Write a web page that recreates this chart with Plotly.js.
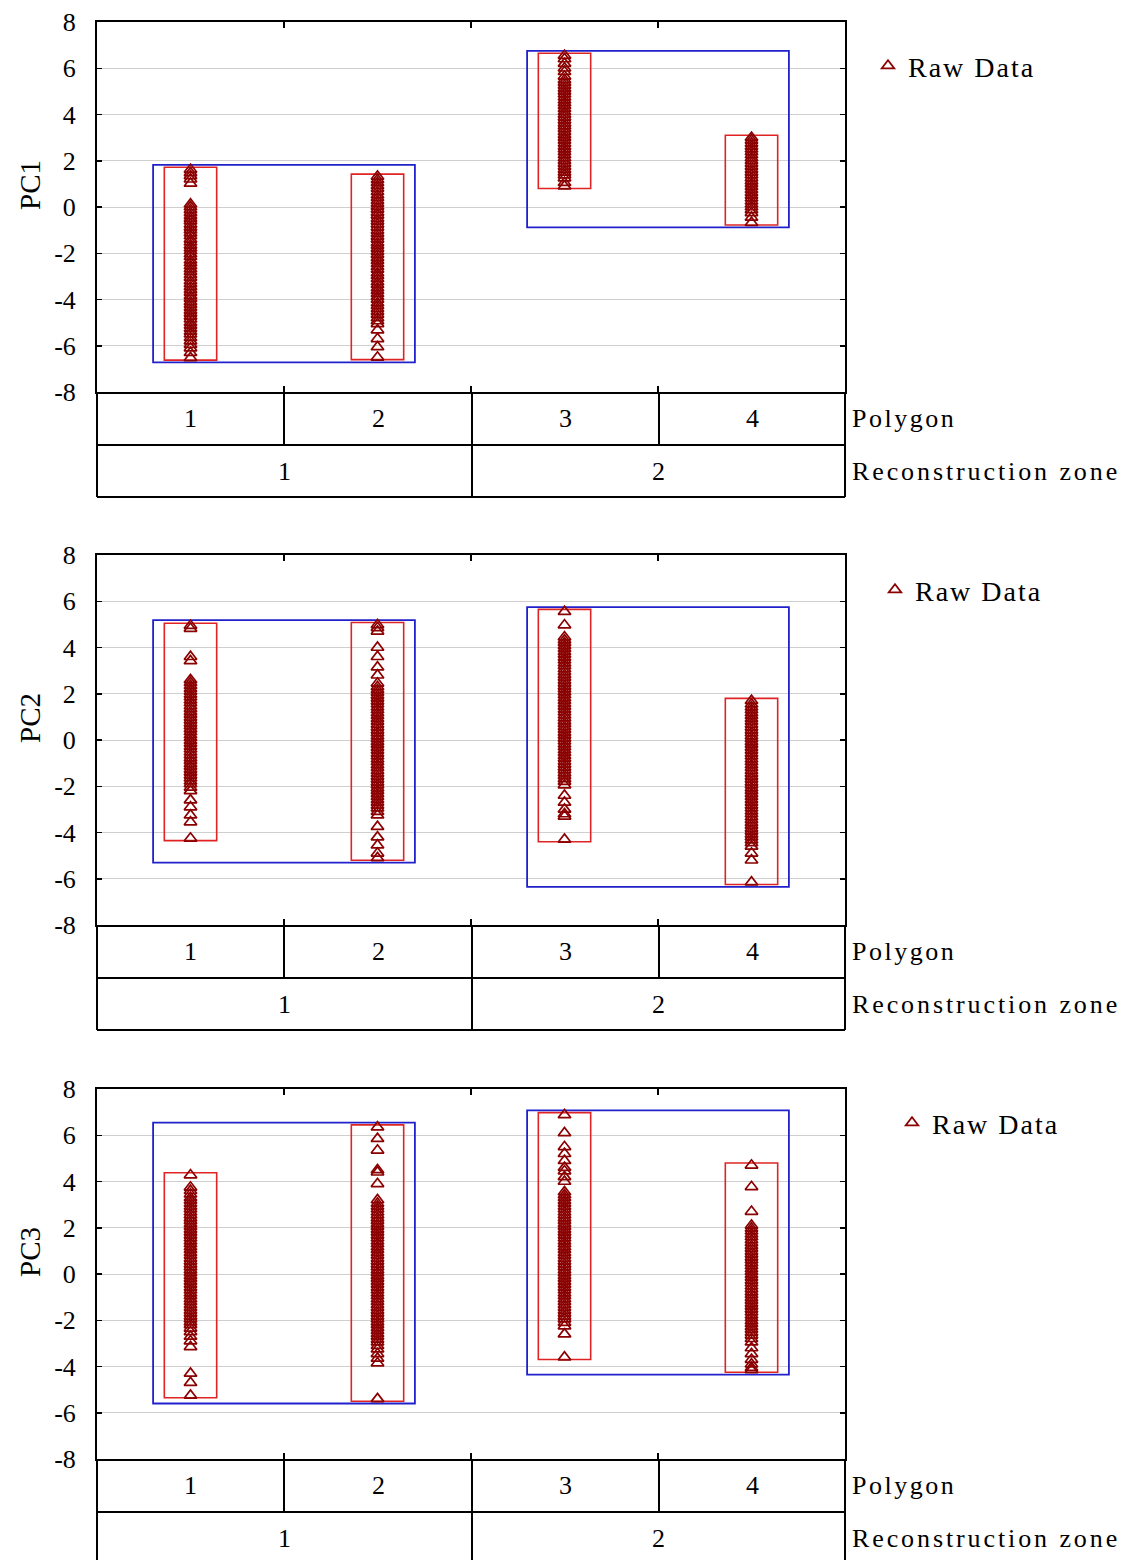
<!DOCTYPE html>
<html><head><meta charset="utf-8">
<script src="https://cdn.plot.ly/plotly-3.0.1.min.js"></script>
<style>body{margin:0;background:#fff}</style>
</head><body><div id="chart" style="width:1125px;height:1560px"></div>
<script>
// ---------------- DATA ----------------
const polygons = [1, 2, 3, 4];
const polygonLabels = ['1', '2', '3', '4'];
const zoneLabels = ['1', '2'];
const zonePolygons = [[1, 2], [3, 4]];
const pcNames = ['PC1', 'PC2', 'PC3'];
const yTickVals = [-8, -6, -4, -2, 0, 2, 4, 6, 8];
const yTickText = ['-8', '-6', '-4', '-2', '0', '2', '4', '6', '8'];
const rowTitles = ['Polygon', 'Reconstruction zone'];
const seriesName = 'Raw Data';

// PC1 raw values per polygon
const pc1_poly1 = [1.62, 1.48, 1.35, 1.2, 1.02, 0.12, 0.0, -0.12, -0.25, -0.38, -0.5, -0.61, -0.75, -0.88, -1.0, -1.13, -1.25, -1.4, -1.52, -1.66, -1.78, -1.9, -2.03, -2.15, -2.3, -2.42, -2.55, -2.68, -2.8, -2.93, -3.05, -3.2, -3.32, -3.45, -3.58, -3.7, -3.84, -3.96, -4.1, -4.22, -4.35, -4.48, -4.6, -4.73, -4.85, -5.0, -5.12, -5.25, -5.38, -5.5, -5.65, -5.8, -5.95, -6.1, -6.3, -6.52];
const pc1_poly2 = [1.32, 1.18, 1.05, 0.92, 0.8, 0.66, 0.52, 0.4, 0.27, 0.15, 0.02, -0.1, -0.24, -0.36, -0.5, -0.62, -0.75, -0.88, -1.02, -1.15, -1.28, -1.4, -1.55, -1.67, -1.8, -1.93, -2.06, -2.2, -2.32, -2.45, -2.58, -2.7, -2.85, -2.97, -3.1, -3.24, -3.36, -3.5, -3.62, -3.75, -3.88, -4.0, -4.15, -4.27, -4.4, -4.52, -4.65, -4.8, -4.93, -5.05, -5.32, -5.7, -6.05, -6.5];
const pc1_poly3 = [6.55, 6.4, 6.2, 6.0, 5.85, 5.65, 5.5, 5.38, 5.25, 5.12, 5.0, 4.88, 4.75, 4.62, 4.5, 4.38, 4.25, 4.12, 4.0, 3.88, 3.75, 3.62, 3.5, 3.38, 3.25, 3.12, 3.0, 2.88, 2.75, 2.62, 2.5, 2.38, 2.25, 2.12, 2.0, 1.88, 1.75, 1.62, 1.5, 1.38, 1.25, 1.05, 0.9];
const pc1_poly4 = [3.0, 2.88, 2.75, 2.62, 2.5, 2.38, 2.25, 2.12, 2.0, 1.88, 1.75, 1.62, 1.5, 1.38, 1.25, 1.12, 1.0, 0.88, 0.75, 0.62, 0.5, 0.38, 0.25, 0.12, 0.0, -0.12, -0.25, -0.45, -0.68];

// PC2 raw values per polygon
const pc2_poly1 = [4.95, 4.82, 3.6, 3.42, 2.6, 2.48, 2.35, 2.22, 2.1, 1.97, 1.85, 1.72, 1.6, 1.47, 1.35, 1.22, 1.1, 0.97, 0.85, 0.72, 0.6, 0.47, 0.35, 0.22, 0.1, -0.03, -0.15, -0.28, -0.4, -0.53, -0.65, -0.78, -0.9, -1.03, -1.15, -1.28, -1.4, -1.53, -1.65, -1.78, -1.9, -2.05, -2.2, -2.6, -2.9, -3.25, -3.55, -4.25];
const pc2_poly2 = [4.98, 4.85, 4.7, 4.0, 3.6, 3.15, 2.8, 2.45, 2.3, 2.17, 2.05, 1.92, 1.8, 1.67, 1.55, 1.42, 1.3, 1.17, 1.05, 0.92, 0.8, 0.67, 0.55, 0.42, 0.3, 0.17, 0.05, -0.08, -0.2, -0.33, -0.45, -0.58, -0.7, -0.83, -0.95, -1.08, -1.2, -1.33, -1.45, -1.58, -1.7, -1.83, -1.95, -2.08, -2.2, -2.33, -2.45, -2.58, -2.7, -2.83, -2.95, -3.1, -3.25, -3.75, -4.2, -4.55, -4.9, -5.1];
const pc2_poly3 = [5.55, 4.97, 4.45, 4.32, 4.2, 4.07, 3.95, 3.82, 3.7, 3.57, 3.45, 3.32, 3.2, 3.07, 2.95, 2.82, 2.7, 2.57, 2.45, 2.32, 2.2, 2.07, 1.95, 1.82, 1.7, 1.57, 1.45, 1.32, 1.2, 1.07, 0.95, 0.82, 0.7, 0.57, 0.45, 0.32, 0.2, 0.07, -0.05, -0.18, -0.3, -0.43, -0.55, -0.68, -0.8, -0.93, -1.05, -1.18, -1.3, -1.43, -1.55, -1.68, -1.8, -1.95, -2.4, -2.7, -3.0, -3.2, -3.3, -4.3];
const pc2_poly4 = [1.7, 1.55, 1.42, 1.3, 1.17, 1.05, 0.92, 0.8, 0.67, 0.55, 0.42, 0.3, 0.17, 0.05, -0.08, -0.2, -0.33, -0.45, -0.58, -0.7, -0.83, -0.95, -1.08, -1.2, -1.33, -1.45, -1.58, -1.7, -1.83, -1.95, -2.08, -2.2, -2.33, -2.45, -2.58, -2.7, -2.83, -2.95, -3.08, -3.2, -3.33, -3.45, -3.58, -3.7, -3.83, -3.95, -4.08, -4.2, -4.33, -4.45, -4.6, -4.9, -5.2, -6.15];

// PC3 raw values per polygon
const pc3_poly1 = [4.28, 3.75, 3.6, 3.45, 3.3, 3.18, 3.05, 2.92, 2.8, 2.67, 2.55, 2.42, 2.3, 2.17, 2.05, 1.92, 1.8, 1.67, 1.55, 1.42, 1.3, 1.17, 1.05, 0.92, 0.8, 0.67, 0.55, 0.42, 0.3, 0.17, 0.05, -0.08, -0.2, -0.33, -0.45, -0.58, -0.7, -0.83, -0.95, -1.08, -1.2, -1.33, -1.45, -1.58, -1.7, -1.83, -1.95, -2.08, -2.2, -2.35, -2.5, -2.7, -2.9, -3.15, -4.3, -4.7, -5.25];
const pc3_poly2 = [6.35, 5.85, 5.35, 4.5, 4.4, 3.9, 3.2, 3.05, 2.92, 2.8, 2.67, 2.55, 2.42, 2.3, 2.17, 2.05, 1.92, 1.8, 1.67, 1.55, 1.42, 1.3, 1.17, 1.05, 0.92, 0.8, 0.67, 0.55, 0.42, 0.3, 0.17, 0.05, -0.08, -0.2, -0.33, -0.45, -0.58, -0.7, -0.83, -0.95, -1.08, -1.2, -1.33, -1.45, -1.58, -1.7, -1.83, -1.95, -2.08, -2.2, -2.33, -2.45, -2.58, -2.7, -2.83, -2.95, -3.1, -3.25, -3.45, -3.65, -3.85, -5.4];
const pc3_poly3 = [6.88, 6.1, 5.5, 5.2, 4.9, 4.6, 4.45, 4.2, 4.0, 3.55, 3.42, 3.3, 3.17, 3.05, 2.92, 2.8, 2.67, 2.55, 2.42, 2.3, 2.17, 2.05, 1.92, 1.8, 1.67, 1.55, 1.42, 1.3, 1.17, 1.05, 0.92, 0.8, 0.67, 0.55, 0.42, 0.3, 0.17, 0.05, -0.08, -0.2, -0.33, -0.45, -0.58, -0.7, -0.83, -0.95, -1.08, -1.2, -1.33, -1.45, -1.58, -1.7, -1.83, -1.95, -2.1, -2.25, -2.6, -3.6];
const pc3_poly4 = [4.7, 3.77, 2.7, 2.1, 1.97, 1.85, 1.72, 1.6, 1.47, 1.35, 1.22, 1.1, 0.97, 0.85, 0.72, 0.6, 0.47, 0.35, 0.22, 0.1, -0.03, -0.15, -0.28, -0.4, -0.53, -0.65, -0.78, -0.9, -1.03, -1.15, -1.28, -1.4, -1.53, -1.65, -1.78, -1.9, -2.03, -2.15, -2.28, -2.4, -2.53, -2.65, -2.8, -2.95, -3.2, -3.45, -3.7, -3.9, -4.05, -4.15];

const panelData = [
  [pc1_poly1, pc1_poly2, pc1_poly3, pc1_poly4],
  [pc2_poly1, pc2_poly2, pc2_poly3, pc2_poly4],
  [pc3_poly1, pc3_poly2, pc3_poly3, pc3_poly4]
];

// ---------------- LAYOUT HELPERS ----------------
const W = 1125, H = 1560;
const FONT = "'Liberation Serif', 'Times New Roman', serif";
const px = v => v / W;
const py = v => 1 - v / H;
const plotLeft = 97, plotRight = 845;
const panelTops = [22, 555, 1089];
const legendPos = [[868, 41], [875, 565], [892, 1098]];
const plotH = 370, row1H = 53, row2H = 52;
const colEdges = [97, 284, 472, 659, 845];

const traces = [];
const shapes = [];
const annotations = [];
const layout = {
  width: W, height: H,
  margin: {l: 0, r: 0, t: 0, b: 0},
  paper_bgcolor: '#ffffff', plot_bgcolor: '#ffffff',
  showlegend: true,
  font: {family: FONT, color: '#000'}
};

const ls = (s, sp) => '<span style="letter-spacing:' + sp + 'px">' + s + '</span>';

panelData.forEach((groups, p) => {
  const sfx = p === 0 ? '' : String(p + 1);
  const xa = 'x' + sfx, ya = 'y' + sfx;
  const legName = 'legend' + sfx;
  const top = panelTops[p], bot = top + plotH;

  layout['xaxis' + sfx] = {
    domain: [px(plotLeft), px(plotRight)], anchor: ya,
    range: [0.5, 4.5], showticklabels: false,
    tickvals: [1.5, 2.5, 3.5], ticks: 'inside', ticklen: 6, tickwidth: 1.5, tickcolor: '#000',
    showline: true, mirror: 'ticks', linecolor: '#000', linewidth: 2,
    showgrid: false, zeroline: false, fixedrange: true
  };
  layout['yaxis' + sfx] = {
    domain: [py(bot), py(top)], anchor: xa,
    range: [-8, 8], tickvals: yTickVals, ticktext: yTickText,
    ticks: 'inside', ticklen: 5, tickwidth: 1.5, tickcolor: '#000',
    showline: true, mirror: 'ticks', linecolor: '#000', linewidth: 2,
    showgrid: true, gridcolor: '#cfcfcf', gridwidth: 1, zeroline: false,
    tickfont: {family: FONT, size: 26, color: '#000'}, ticklabelstandoff: 14,
    fixedrange: true
  };
  layout[legName] = {
    x: px(legendPos[p][0]), y: py(legendPos[p][1]), xanchor: 'left', yanchor: 'top',
    bgcolor: 'rgba(0,0,0,0)', borderwidth: 0,
    font: {family: FONT, size: 28, color: '#000'}
  };

  groups.forEach((vals, g) => {
    traces.push({
      type: 'scatter', mode: 'markers',
      x: vals.map(() => polygons[g]), y: vals,
      xaxis: xa, yaxis: ya, legend: legName,
      name: ls(seriesName, 2), legendgroup: 'raw' + p, showlegend: g === 0,
      marker: {symbol: 'triangle-up-open', size: 11, color: '#8b0000', line: {width: 1.7, color: '#8b0000'}},
      hoverinfo: 'y'
    });
    // red polygon range box
    const mn = Math.min(...vals), mx = Math.max(...vals);
    shapes.push({type: 'rect', xref: xa, yref: ya, layer: 'between',
      x0: polygons[g] - 0.14, x1: polygons[g] + 0.14, y0: mn - 0.1, y1: mx + 0.1,
      line: {color: '#e02424', width: 1.6}, fillcolor: 'rgba(0,0,0,0)'});
  });
  // blue zone range boxes
  zonePolygons.forEach(zp => {
    const vals = zp.flatMap(k => groups[k - 1]);
    const mn = Math.min(...vals), mx = Math.max(...vals);
    shapes.push({type: 'rect', xref: xa, yref: ya, layer: 'between',
      x0: zp[0] - 0.2, x1: zp[zp.length - 1] + 0.2, y0: mn - 0.2, y1: mx + 0.2,
      line: {color: '#2020cc', width: 1.8}, fillcolor: 'rgba(0,0,0,0)'});
  });

  // category table below plot
  const r1b = bot + row1H, r2b = r1b + row2H;
  const L = (x0, y0, x1, y1) => shapes.push({type: 'line', xref: 'paper', yref: 'paper',
    x0: px(x0), y0: py(y0), x1: px(x1), y1: py(y1), line: {color: '#000', width: 2}});
  L(plotLeft, r1b, plotRight, r1b);
  L(plotLeft, r2b, plotRight, r2b);
  L(plotLeft, bot, plotLeft, r2b);
  L(plotRight, bot, plotRight, r2b);
  L(colEdges[1], bot, colEdges[1], r1b);
  L(colEdges[2], bot, colEdges[2], r2b);
  L(colEdges[3], bot, colEdges[3], r1b);

  polygonLabels.forEach((t, i) => annotations.push({
    xref: 'paper', yref: 'paper', x: px((colEdges[i] + colEdges[i + 1]) / 2), y: py(bot + row1H / 2),
    text: t, showarrow: false, xanchor: 'center', yanchor: 'middle',
    font: {family: FONT, size: 26, color: '#000'}}));
  zoneLabels.forEach((t, i) => annotations.push({
    xref: 'paper', yref: 'paper', x: px((colEdges[2 * i] + colEdges[2 * i + 2]) / 2), y: py(r1b + row2H / 2),
    text: t, showarrow: false, xanchor: 'center', yanchor: 'middle',
    font: {family: FONT, size: 26, color: '#000'}}));
  annotations.push({xref: 'paper', yref: 'paper', x: px(850), y: py(bot + row1H / 2),
    text: ls(rowTitles[0], 2.5), showarrow: false, xanchor: 'left', yanchor: 'middle',
    font: {family: FONT, size: 26, color: '#000'}});
  annotations.push({xref: 'paper', yref: 'paper', x: px(850), y: py(r1b + row2H / 2),
    text: ls(rowTitles[1], 2.9), showarrow: false, xanchor: 'left', yanchor: 'middle',
    font: {family: FONT, size: 26, color: '#000'}});
  // y axis title
  annotations.push({xref: 'paper', yref: 'paper', x: px(30), y: py(top + 163),
    text: pcNames[p], showarrow: false, textangle: -90, xanchor: 'center', yanchor: 'middle',
    font: {family: FONT, size: 29, color: '#000'}});
});

layout.shapes = shapes;
layout.annotations = annotations;

Plotly.newPlot('chart', traces, layout, {displayModeBar: false, staticPlot: true});
</script>
</body></html>
